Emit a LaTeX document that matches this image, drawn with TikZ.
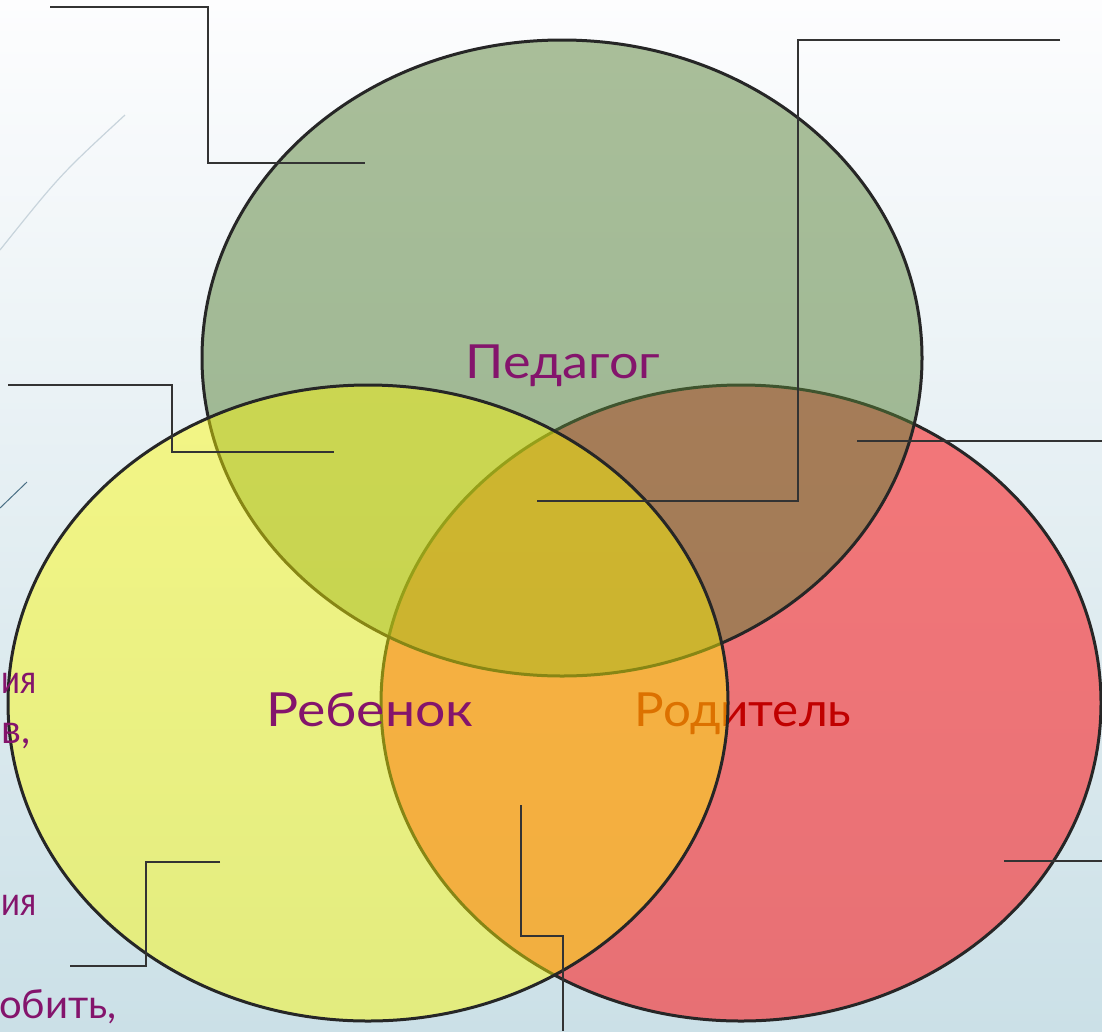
\documentclass[tikz,border=0pt]{standalone}
\usepackage{fontspec}
\setmainfont{Lato}
\usetikzlibrary{shapes.geometric}
\definecolor{bgtop}{RGB}{253,253,254}
\definecolor{bgmid}{RGB}{233,241,245}
\definecolor{bgbot}{RGB}{203,224,231}
\definecolor{redc}{RGB}{250,38,40}
\definecolor{greenc}{RGB}{89,130,55}
\definecolor{yelc}{RGB}{255,251,0}
\definecolor{purp}{RGB}{132,20,108}
\definecolor{redt}{RGB}{192,0,0}
\definecolor{connc}{RGB}{51,51,51}
\definecolor{ringc}{RGB}{38,38,38}
\definecolor{deco1c}{RGB}{200,212,220}
\definecolor{deco2c}{RGB}{74,111,133}
\begin{document}
\begin{tikzpicture}[x=1pt,y=-1pt,
  venn/.style={ellipse, draw=ringc, line width=3pt, minimum width=720pt, minimum height=636pt, inner sep=0pt},
  conn/.style={draw=connc, line width=2.4pt},
  lbl/.style={font=\fontsize{47}{50}\selectfont, anchor=base, inner sep=0pt, text opacity=1},
  side/.style={font=\fontsize{40}{44}\selectfont, text=purp, anchor=base east, inner sep=0pt}]
\useasboundingbox (0,0) rectangle (1102,1031);
\shade[top color=bgtop, middle color=bgmid, bottom color=bgbot] (0,0) rectangle (1102,1031);
\draw[deco1c, line width=1.2pt] (125,115) .. controls (60,175) .. (0,250);
\draw[deco2c, line width=1pt] (27,482) -- (0,508);
% ellipses
\node[venn, fill=redc, fill opacity=0.6] (rod) at (741,703) {};
\node[lbl, text=redt] (rodt) at (743,726) {\scalebox{1.05}[1]{Родитель}};
\node[venn, fill=greenc, fill opacity=0.5] (ped) at (562,358) {};
\node[venn, fill=yelc, fill opacity=0.45] (reb) at (368,703) {};
\node[lbl, text=purp] (pedt) at (563,378) {\scalebox{1.11}[1]{Педагог}};
\node[lbl, text=purp] (rebt) at (370,726) {\scalebox{1.14}[1]{Ребенок}};
% side texts
\node[side] (s1) at (37,693) {\scalebox{0.82}[1]{ия}};
\node[side] (s2) at (31,743) {в,};
\node[side] (s3) at (37,915) {\scalebox{0.82}[1]{ия}};
\node[side] (s4) at (117,1018) {обить,};
% connectors
\coordinate (a1) at (50,7);   \coordinate (a2) at (208,163); \coordinate (a3) at (365,163);
\coordinate (b1) at (1060,40); \coordinate (b2) at (798,501); \coordinate (b3) at (537,501);
\coordinate (c1) at (8,385);  \coordinate (c2) at (172,452); \coordinate (c3) at (334,452);
\coordinate (d1) at (857,441); \coordinate (d2) at (1102,441);
\coordinate (e1) at (1004,861); \coordinate (e2) at (1102,861);
\coordinate (f1) at (220,862); \coordinate (f2) at (146,966); \coordinate (f3) at (70,966);
\coordinate (g1) at (521,805); \coordinate (g2) at (563,936); \coordinate (g3) at (563,1031);
\draw[conn] (a1) -| (a2) -- (a3);
\draw[conn] (b1) -| (b2) -- (b3);
\draw[conn] (c1) -| (c2) -- (c3);
\draw[conn] (d1) -- (d2);
\draw[conn] (e1) -- (e2);
\draw[conn] (f1) -| (f2) -- (f3);
\draw[conn] (g1) |- (g2) -- (g3);
\end{tikzpicture}
\end{document}
